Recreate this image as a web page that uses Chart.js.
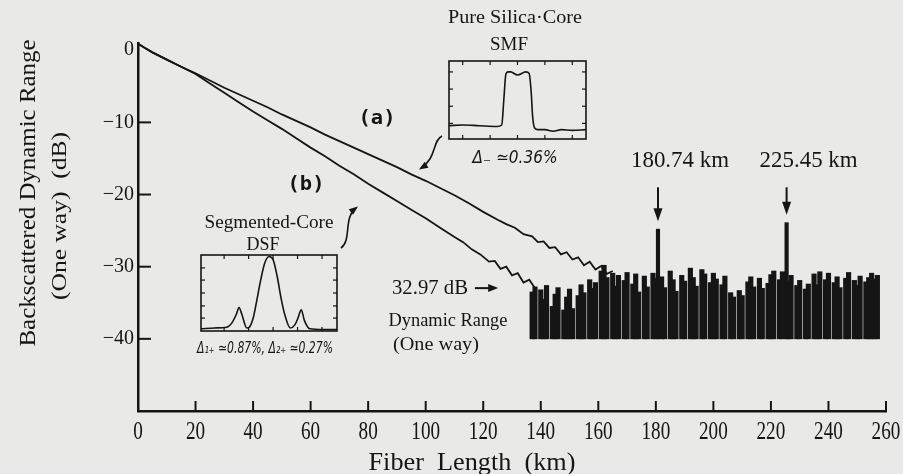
<!DOCTYPE html>
<html>
<head>
<meta charset="utf-8">
<script src="https://cdn.jsdelivr.net/npm/chart.js@4.4.1/dist/chart.umd.min.js"></script>
<style>
  html, body { margin: 0; padding: 0; background: #e9e9e7; }
  #wrap { position: relative; width: 903px; height: 474px; }
  #wrap canvas { position: absolute; }
</style>
</head>
<body>
<div id="wrap">
  <canvas id="otdr" width="903" height="474" style="left:0;top:0"></canvas>
  <canvas id="smf" width="141" height="82" style="left:447px;top:59px"></canvas>
  <canvas id="dsf" width="140" height="80" style="left:199px;top:253px"></canvas>
</div>
<script>
// axis ticks
const xTicks = [0, 20, 40, 60, 80, 100, 120, 140, 160, 180, 200, 220, 240, 260];
const yTicks = [-40, -30, -20, -10, 0];

// (a) pure silica-core SMF trace
const traceAKm = [0, 2, 5, 10, 15, 20, 25, 30, 35, 40, 45, 50, 55, 60, 65, 70, 75, 80, 85, 90,
  95, 100, 105, 110, 115, 120, 125, 128, 131, 134, 137, 139, 141, 143, 145, 147, 149, 151, 153,
  155, 157, 159, 161, 163, 165];
const traceADb = [0.9, 0.4, -0.3, -1.3, -2.3, -3.2, -4.2, -5.2, -6.1, -7.0, -7.9, -8.9, -9.8,
  -10.7, -11.7, -12.6, -13.5, -14.4, -15.3, -16.2, -17.2, -18.1, -19.1, -20.1, -21.2, -22.4,
  -23.5, -24.1, -24.6, -25.5, -25.8, -26.6, -26.5, -27.4, -27.3, -28.3, -28.0, -29.0, -28.7,
  -29.8, -29.3, -30.4, -29.9, -31.0, -30.6];

// (b) segmented-core DSF trace
const traceBKm = [0, 2, 5, 10, 15, 20, 25, 30, 35, 40, 45, 50, 55, 60, 65, 70, 75, 80, 85, 90,
  95, 100, 105, 110, 113, 116, 119, 122, 124, 126, 128, 130, 132, 134, 136, 138];
const traceBDb = [0.9, 0.4, -0.3, -1.3, -2.3, -3.3, -4.6, -5.9, -7.2, -8.5, -9.7, -10.9, -12.2,
  -13.5, -14.7, -16.0, -17.2, -18.5, -19.7, -20.9, -22.1, -23.3, -24.6, -25.9, -26.6, -27.6,
  -28.3, -29.3, -29.2, -30.3, -30.0, -31.2, -30.9, -32.2, -31.8, -33.0];

// noise floor (columns from -40 dB up to the top value, null = gap)
const noiseFloor = -40;
const noiseKm = [137, 138, 139, 140, 141, 142, 143, 144, 145, 146,
  147, 148, 149, 150, 151, 152, 153, 154, 155, 156,
  157, 158, 159, 160, 161, 162, 163, 164, 165, 166,
  167, 168, 169, 170, 171, 172, 173, 174, 175, 176,
  177, 178, 179, 180, 181, 182, 183, 184, 185, 186,
  187, 188, 189, 190, 191, 192, 193, 194, 195, 196,
  197, 198, 199, 200, 201, 202, 203, 204, 205, 206,
  207, 208, 209, 210, 211, 212, 213, 214, 215, 216,
  217, 218, 219, 220, 221, 222, 223, 224, 225, 226,
  227, 228, 229, 230, 231, 232, 233, 234, 235, 236,
  237, 238, 239, 240, 241, 242, 243, 244, 245, 246,
  247, 248, 249, 250, 251, 252, 253, 254, 255, 256, 257];
const noiseTop = [-33.5, -32.8, null, -33.2, -34.5, -32.6, null, -35.5, -33.8, -32.9,
  null, -36.0, -34.2, -33.1, -35.8, null, -34.0, -32.5, -33.6, null,
  -31.8, -33.0, -32.2, null, -30.6, -29.8, -31.5, null, -30.9, -32.7,
  -31.2, null, -31.9, -30.8, null, -32.4, -31.0, -33.5, null, -31.3,
  -32.8, null, -30.9, -31.6, null, -31.4, -32.9, null, -30.6, -31.8,
  -33.4, null, -31.2, -32.0, null, -30.2, -31.5, -32.7, null, -30.4,
  -31.0, null, -32.2, -30.9, -31.7, null, -32.5, -31.3, null, -33.6,
  -34.2, null, -33.3, -34.0, null, -32.1, -31.4, -32.8, null, -31.6,
  -33.0, null, -32.3, -31.1, -30.6, null, -31.8, -30.7, null, -32.0,
  -31.2, null, -32.6, -31.9, null, -33.1, -32.4, null, -31.0, -32.5,
  -30.7, null, -31.8, -30.9, null, -32.2, -31.4, -32.9, null, -31.6,
  -30.8, null, -31.9, -32.6, -31.3, null, -32.1, -31.5, -30.9, -31.7, -31.2];

// reflection events
const eventKm = [180.74, 225.45];
const eventTop = [-24.8, -23.9];
const eventLabels = ['180.74 km', '225.45 km'];
const dynamicRange = 32.97;

// index profiles of the insets (relative position / relative index)
const smfPos = [0, 0.1, 0.22, 0.35, 0.385, 0.40, 0.415, 0.43, 0.45, 0.5, 0.56, 0.585, 0.6,
  0.61, 0.625, 0.65, 0.7, 0.76, 0.82, 0.9, 1.0];
const smfIndex = [0.17, 0.18, 0.17, 0.16, 0.18, 0.5, 0.83, 0.86, 0.86, 0.82, 0.86, 0.84, 0.6,
  0.3, 0.14, 0.12, 0.12, 0.10, 0.12, 0.11, 0.12];
const smfTicksX = [0.1, 0.3, 0.5, 0.7, 0.9];
const smfTicksY = [0.2, 0.42, 0.64, 0.86];

const dsfPos = [0, 0.1, 0.19, 0.225, 0.26, 0.28, 0.30, 0.337, 0.36, 0.385, 0.41, 0.44, 0.47,
  0.5, 0.53, 0.56, 0.59, 0.62, 0.656, 0.69, 0.715, 0.737, 0.76, 0.8, 0.9, 1.0];
const dsfIndex = [0.03, 0.04, 0.05, 0.10, 0.22, 0.31, 0.22, 0.04, 0.06, 0.18, 0.40, 0.68, 0.90,
  0.98, 0.94, 0.72, 0.42, 0.19, 0.04, 0.08, 0.18, 0.28, 0.14, 0.03, 0.02, 0.02];
const dsfTicksX = [0.17, 0.35, 0.53, 0.71, 0.89];
const dsfTicksY = [0.17, 0.33, 0.5, 0.67, 0.83];

const ink = '#151515';
const serif = '"Liberation Serif", "DejaVu Serif", serif';

function fitText(ctx, text, cx, cy, font, width, angle) {
  ctx.save();
  ctx.font = font;
  const w = ctx.measureText(text).width;
  ctx.translate(cx, cy);
  if (angle) ctx.rotate(angle);
  ctx.scale(width / w, 1);
  ctx.textAlign = 'center';
  ctx.textBaseline = 'middle';
  ctx.fillText(text, 0, 0);
  ctx.restore();
}

function line(ctx, x1, y1, x2, y2) {
  ctx.beginPath();
  ctx.moveTo(x1, y1);
  ctx.lineTo(x2, y2);
  ctx.stroke();
}

function head(ctx, x, y, dx, dy, len, wid) {
  const d = Math.hypot(dx, dy);
  const ux = dx / d, uy = dy / d;
  ctx.beginPath();
  ctx.moveTo(x, y);
  ctx.lineTo(x - ux * len - uy * wid / 2, y - uy * len + ux * wid / 2);
  ctx.lineTo(x - ux * len + uy * wid / 2, y - uy * len - ux * wid / 2);
  ctx.closePath();
  ctx.fill();
}

const decor = {
  id: 'decor',
  afterDraw(chart) {
    const {ctx, chartArea: a, scales: {x, y}} = chart;
    ctx.save();
    ctx.fillStyle = ink;
    ctx.strokeStyle = ink;

    // inward tick marks
    ctx.lineWidth = 2;
    xTicks.forEach(v => {
      if (v === 0) return;
      const px = x.getPixelForValue(v);
      line(ctx, px, a.bottom, px, a.bottom - 10);
    });
    yTicks.forEach(v => {
      if (v === 0) return;
      const py = y.getPixelForValue(v);
      line(ctx, a.left, py, a.left + 13, py);
    });

    // x tick labels (condensed serif)
    xTicks.forEach(v => {
      const s = String(v);
      fitText(ctx, s, x.getPixelForValue(v), a.bottom + 21, '25px ' + serif, s.length * 9.6);
    });

    // axis titles
    fitText(ctx, 'Fiber  Length  (km)', 472, 463, '25px ' + serif, 207);
    fitText(ctx, 'Backscattered Dynamic Range', 29, 193, '23px ' + serif, 307, -Math.PI / 2);
    fitText(ctx, '(One way)  (dB)', 60, 216, '22px ' + serif, 168, -Math.PI / 2);

    // trace labels
    fitText(ctx, '(a)', 377, 119, 'bold 20px "DejaVu Sans Mono"', 37);
    fitText(ctx, '(b)', 306, 185, 'bold 20px "DejaVu Sans Mono"', 37);

    // inset captions
    fitText(ctx, 'Pure Silica·Core', 515, 18, '18px ' + serif, 134);
    fitText(ctx, 'SMF', 509, 45, '18px ' + serif, 38);
    fitText(ctx, 'Δ₋ ≃0.36%', 515, 159, 'italic 17px "DejaVu Sans"', 85);
    fitText(ctx, 'Segmented-Core', 269, 223, '18px ' + serif, 129);
    fitText(ctx, 'DSF', 263, 245, '18px ' + serif, 33);
    fitText(ctx, 'Δ₁₊ ≃0.87%, Δ₂₊ ≃0.27%', 265, 349, 'italic 15px "DejaVu Sans"', 136);

    // curly pointers
    ctx.lineWidth = 1.6;
    ctx.beginPath();
    ctx.moveTo(442, 136);
    ctx.bezierCurveTo(432, 141, 437, 158, 421, 168);
    ctx.stroke();
    head(ctx, 419, 169.5, -16, 10, 9, 7);
    ctx.beginPath();
    ctx.moveTo(341, 248);
    ctx.bezierCurveTo(352, 240, 343, 218, 356, 208);
    ctx.stroke();
    head(ctx, 358, 206.5, 13, -10, 9, 7);

    // event arrows + labels
    ctx.lineWidth = 2;
    eventKm.forEach((k, i) => {
      const px = x.getPixelForValue(k);
      const tip = y.getPixelForValue(eventTop[i]) - 8;
      const tail = y.getPixelForValue(-19);
      line(ctx, px, tail, px, tip - 8);
      head(ctx, px, tip, 0, 1, 13, 9);
      fitText(ctx, eventLabels[i], px + 22, y.getPixelForValue(-15.35), '23px ' + serif, 98);
    });

    // dynamic range marker
    const dy = y.getPixelForValue(-dynamicRange);
    const dx = x.getPixelForValue(114.7);
    const lbl = dynamicRange.toFixed(2) + ' dB';
    fitText(ctx, lbl, dx - 38, dy, '22px ' + serif, 76);
    const ax1 = x.getPixelForValue(117.1), ax2 = x.getPixelForValue(125.2);
    line(ctx, ax1, dy, ax2 - 6, dy);
    head(ctx, ax2, dy, 1, 0, 10, 8);
    fitText(ctx, 'Dynamic Range', dx - 20, y.getPixelForValue(-37.5), '18px ' + serif, 119);
    fitText(ctx, '(One way)', dx - 32, y.getPixelForValue(-40.85), '18px ' + serif, 86);
    ctx.restore();
  }
};

new Chart(document.getElementById('otdr'), {
  type: 'bar',
  data: {
    datasets: [
      {
        type: 'line',
        label: '(a) Pure Silica-Core SMF',
        data: traceAKm.map((k, i) => ({x: k, y: traceADb[i]})),
        borderColor: ink,
        borderWidth: 1.8,
        pointRadius: 0,
        tension: 0
      },
      {
        type: 'line',
        label: '(b) Segmented-Core DSF',
        data: traceBKm.map((k, i) => ({x: k, y: traceBDb[i]})),
        borderColor: ink,
        borderWidth: 1.8,
        pointRadius: 0,
        tension: 0
      },
      {
        label: 'Noise floor',
        data: noiseKm.map((k, i) => ({x: k, y: noiseTop[i] === null ? null : [noiseFloor, noiseTop[i]]})),
        backgroundColor: ink,
        borderWidth: 0,
        barThickness: 4.5,
        grouped: false
      },
      {
        label: 'Reflections',
        data: eventKm.map((k, i) => ({x: k, y: [noiseFloor, eventTop[i]]})),
        backgroundColor: ink,
        borderWidth: 0,
        barThickness: 3.5,
        grouped: false
      }
    ]
  },
  options: {
    responsive: false,
    animation: false,
    layout: {padding: {left: 0, right: 17, top: 43, bottom: 0}},
    plugins: {legend: {display: false}, tooltip: {enabled: false}},
    scales: {
      x: {
        type: 'linear',
        offset: false,
        min: 0,
        max: 260,
        afterBuildTicks: s => { s.ticks = xTicks.map(v => ({value: v})); },
        afterFit: s => { s.height = 63; },
        ticks: {display: false},
        grid: {display: true, offset: false, drawOnChartArea: false, drawTicks: false},
        border: {display: true, color: ink, width: 2.5}
      },
      y: {
        type: 'linear',
        min: -50,
        max: 1,
        afterBuildTicks: s => { s.ticks = yTicks.map(v => ({value: v})); },
        afterFit: s => { s.width = 138; },
        ticks: {
          color: ink,
          padding: 4,
          font: {family: serif, size: 20},
          callback: v => v === 0 ? '0' : '−' + Math.abs(v)
        },
        grid: {display: true, drawOnChartArea: false, drawTicks: false},
        border: {display: true, color: ink, width: 2.5}
      }
    }
  },
  plugins: [decor]
});

function makeInset(id, pos, val, tx, ty) {
  new Chart(document.getElementById(id), {
    type: 'line',
    data: {
      datasets: [{
        data: pos.map((p, i) => ({x: p, y: val[i]})),
        borderColor: ink,
        borderWidth: 1.6,
        pointRadius: 0,
        cubicInterpolationMode: 'monotone'
      }]
    },
    options: {
      responsive: false,
      animation: false,
      layout: {padding: 2},
      plugins: {legend: {display: false}, tooltip: {enabled: false}},
      scales: {
        x: {type: 'linear', min: 0, max: 1, display: false},
        y: {type: 'linear', min: 0, max: 1, display: false}
      }
    },
    plugins: [{
      id: 'frame',
      afterDraw(chart) {
        const {ctx, chartArea: a, scales: {x, y}} = chart;
        ctx.save();
        ctx.strokeStyle = ink;
        ctx.lineWidth = 1.6;
        ctx.strokeRect(a.left, a.top, a.right - a.left, a.bottom - a.top);
        ctx.lineWidth = 1.2;
        tx.forEach(t => {
          const px = x.getPixelForValue(t);
          line(ctx, px, a.bottom, px, a.bottom - 4);
          line(ctx, px, a.top, px, a.top + 4);
        });
        ty.forEach(t => {
          const py = y.getPixelForValue(t);
          line(ctx, a.left, py, a.left + 4, py);
          line(ctx, a.right, py, a.right - 4, py);
        });
        ctx.restore();
      }
    }]
  });
}

makeInset('smf', smfPos, smfIndex, smfTicksX, smfTicksY);
makeInset('dsf', dsfPos, dsfIndex, dsfTicksX, dsfTicksY);
</script>
</body>
</html>
